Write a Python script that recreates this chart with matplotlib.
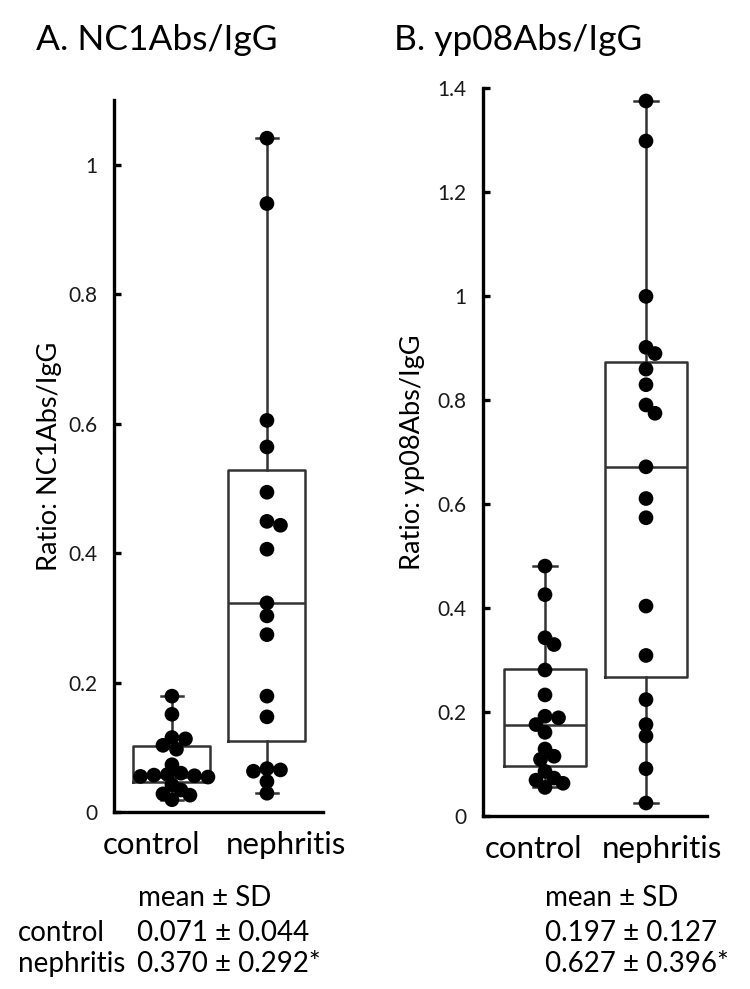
import matplotlib
matplotlib.use('Agg')
import matplotlib.pyplot as plt
import numpy as np

plt.rcParams['font.family'] = ['Lato', 'DejaVu Sans']

groups = ['control', 'nephritis']

# panel A: NC1Abs/IgG ratio
nc1_control = [0.179, 0.151, 0.115, 0.113, 0.103, 0.097, 0.073, 0.060, 0.058,
               0.056, 0.057, 0.055, 0.054, 0.042, 0.034, 0.028, 0.026, 0.019]
nc1_nephritis = [1.041, 0.940, 0.605, 0.564, 0.494, 0.449, 0.443, 0.406, 0.323,
                 0.303, 0.274, 0.179, 0.147, 0.067, 0.065, 0.063, 0.047, 0.029]
nc1_q1 = [0.046, 0.109]
nc1_med = [0.054, 0.323]
nc1_q3 = [0.102, 0.528]
nc1_stats = ['0.071 ± 0.044', '0.370 ± 0.292*']

# panel B: yp08Abs/IgG ratio
yp08_control = [0.480, 0.425, 0.342, 0.329, 0.280, 0.232, 0.191, 0.188, 0.175,
                0.160, 0.128, 0.114, 0.108, 0.085, 0.072, 0.068, 0.062, 0.054]
yp08_nephritis = [1.375, 1.298, 0.999, 0.901, 0.889, 0.859, 0.829, 0.790, 0.774,
                  0.671, 0.610, 0.573, 0.403, 0.308, 0.223, 0.175, 0.153, 0.090, 0.024]
yp08_q1 = [0.095, 0.266]
yp08_med = [0.175, 0.671]
yp08_q3 = [0.281, 0.873]
yp08_stats = ['0.197 ± 0.127', '0.627 ± 0.396*']

W, H = 750, 989
fig = plt.figure(figsize=(W/100, H/100), dpi=100)

lc = '#333333'
diam = 15  # marker diameter, px


def swarm_x(ax, pos, values, d):
    # simple beeswarm in pixel space
    pix = ax.transData.transform(np.column_stack([np.full(len(values), pos), values]))
    xc = pix[0, 0]
    ys = pix[:, 1]
    xs = np.full(len(values), xc)
    placed = []
    step = 0.3 * d
    mind = 0.68 * d
    for i in np.argsort(-ys):
        k = 0
        while True:
            cands = [0] if k == 0 else [k*step, -k*step]
            done = False
            for off in cands:
                if all((off - px)**2 + (ys[i] - py)**2 >= mind**2 for px, py in placed):
                    xs[i] = xc + off
                    placed.append((off, ys[i]))
                    done = True
                    break
            if done:
                break
            k += 1
    back = ax.transData.inverted().transform(np.column_stack([xs, ys]))
    return back[:, 0]


def panel(rect, xlim, ylim, yticks, ytl, ctrl, neph, q1, med, q3, xtpos, ylabel, lab_x):
    ax = fig.add_axes(rect)
    ax.set_xlim(*xlim)
    ax.set_ylim(*ylim)
    for s in ['top', 'right']:
        ax.spines[s].set_visible(False)
    for s in ['left', 'bottom']:
        ax.spines[s].set_linewidth(2.4)
        ax.spines[s].set_color('black')

    data = [ctrl, neph]
    stats = []
    for i in range(2):
        stats.append(dict(med=med[i], q1=q1[i], q3=q3[i],
                          whislo=min(data[i]), whishi=max(data[i]), fliers=[]))
    lp = dict(color=lc, linewidth=1.8)
    ax.bxp(stats, positions=[1, 2], widths=0.81, capwidths=0.23, showfliers=False,
           manage_ticks=False, boxprops=lp, whiskerprops=lp, capprops=lp,
           medianprops=lp)

    for i in range(2):
        xs = swarm_x(ax, i + 1, data[i], diam)
        ax.scatter(xs, data[i], s=112, color='black', edgecolors='none', zorder=3)

    ax.set_yticks(yticks)
    ax.set_yticklabels(ytl)
    ax.tick_params(axis='y', direction='in', length=5, width=2.4, labelsize=15,
                   pad=12, labelcolor='#1a1a1a')
    ax.set_xticks(xtpos)
    ax.set_xticklabels(groups)
    ax.tick_params(axis='x', length=0, labelsize=22.5, pad=14)
    ax.set_ylabel(ylabel, fontsize=19.5)
    ax.yaxis.set_label_coords(lab_x, 0.5)
    return ax


axA = panel([114/W, 1 - 812/H, 209/W, 712/H], (0.39, 2.59), (0, 1.1),
            [0, 0.2, 0.4, 0.6, 0.8, 1.0], ['0', '0.2', '0.4', '0.6', '0.8', '1'],
            nc1_control, nc1_nephritis, nc1_q1, nc1_med, nc1_q3,
            [0.79, 2.2], 'Ratio: NC1Abs/IgG', -0.25)

axB = panel([483/W, 1 - 815.5/H, 224/W, 727.5/H], (0.386, 2.604), (0, 1.4),
            [0, 0.2, 0.4, 0.6, 0.8, 1.0, 1.2, 1.4],
            ['0', '0.2', '0.4', '0.6', '0.8', '1', '1.2', '1.4'],
            yp08_control, yp08_nephritis, yp08_q1, yp08_med, yp08_q3,
            [0.89, 2.16], 'Ratio: yp08Abs/IgG', -0.26)

fig.text(36/W, 1 - 50/H, 'A. NC1Abs/IgG', fontsize=25.5, ha='left', va='baseline')
fig.text(394/W, 1 - 50/H, 'B. yp08Abs/IgG', fontsize=25.5, ha='left', va='baseline')

# mean +- SD tables
fs = 20
fig.text(138/W, 1 - 906/H, 'mean ± SD', fontsize=fs, ha='left', va='baseline')
fig.text(18/W, 1 - 941/H, 'control', fontsize=fs, ha='left', va='baseline')
fig.text(18/W, 1 - 972/H, 'nephritis', fontsize=fs, ha='left', va='baseline')
fig.text(137/W, 1 - 941/H, nc1_stats[0], fontsize=fs, ha='left', va='baseline')
fig.text(137/W, 1 - 972/H, nc1_stats[1], fontsize=fs, ha='left', va='baseline')

fig.text(545/W, 1 - 906/H, 'mean ± SD', fontsize=fs, ha='left', va='baseline')
fig.text(545/W, 1 - 941/H, yp08_stats[0], fontsize=fs, ha='left', va='baseline')
fig.text(545/W, 1 - 972/H, yp08_stats[1], fontsize=fs, ha='left', va='baseline')

fig.savefig('out.png', dpi=100)
